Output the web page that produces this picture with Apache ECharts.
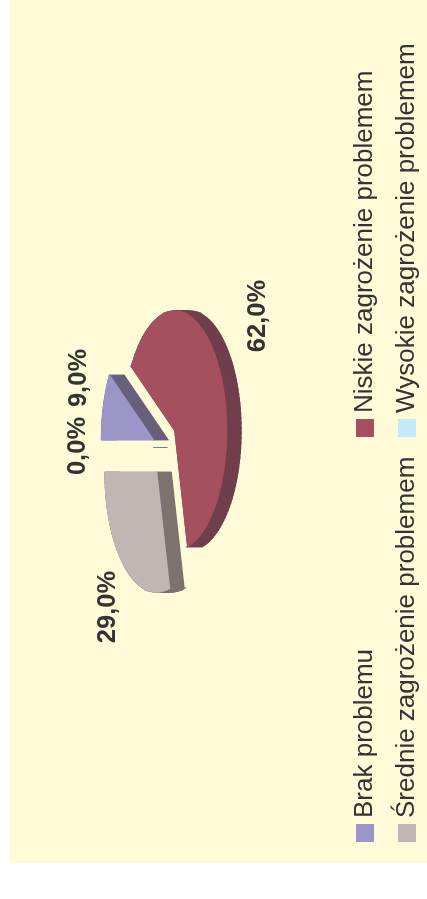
<!DOCTYPE html>
<html><head><meta charset="utf-8">
<style>html,body{margin:0;padding:0;background:#fff}#c{width:427px;height:899px}</style>
<script src="https://cdn.jsdelivr.net/npm/echarts@6/dist/echarts.min.js"></script>
</head><body><div id="c"></div>
<script>
const categories = ['Brak problemu','Niskie zagrożenie problemem','Średnie zagrożenie problemem','Wysokie zagrożenie problemem'];
const values = [9, 62, 29, 0];
const valueLabels = ['9,0%','62,0%','29,0%','0,0%'];
const faceColors = ['#9C96C8','#A4505F','#C0B7B5','#C6E9F8'];
const sideColors = ['#675F7B','#703F4B','#7E7270','#6F7F8F'];
const explode = [0.24,0.24,0.265,0.24];
const labelPos = [[79,378],[258,316],[108,607],[78,446]];
const legendPos = [[365,842],[365,437],[407,842],[407,437]];

const CX=165, CY=447.5, RX=51.5, RY=119.5, DEPTH=14.5;
const total = values.reduce((a,b)=>a+b,0);
const starts = []; values.reduce((a,v,i)=>{starts[i]=a;return a+v;},0);

function pt(cx,cy,t){return [cx-RX*Math.cos(t), cy-RY*Math.sin(t)];}
function renderSlice(params, api){
  const i = api.value(0), v = api.value(1);
  const t0 = starts[i]/total*2*Math.PI, t1=(starts[i]+v)/total*2*Math.PI, mid=(t0+t1)/2;
  const e = explode[i];
  const cx = CX-RX*e*Math.cos(mid), cy = CY-RY*e*Math.sin(mid);
  if(v===0){
    return {type:'line',shape:{x1:cx+0.5,y1:cy,x2:cx+DEPTH+0.5,y2:cy},style:{stroke:sideColors[i],lineWidth:1}};
  }
  const n = Math.max(2,Math.ceil(v*1.5));
  const arc=[]; for(let k=0;k<=n;k++){arc.push(pt(cx,cy,t0+(t1-t0)*k/n));}
  const face=[[cx,cy],...arc];
  const children=[];
  const shift = p=>[p[0]+DEPTH,p[1]];
  face.forEach((p,k)=>{
    const q=face[(k+1)%face.length];
    children.push({type:'polygon',shape:{points:[p,q,shift(q),shift(p)]},style:{fill:sideColors[i],stroke:sideColors[i],lineWidth:1.5}});
  });
  children.push({type:'polygon',shape:{points:face},style:{fill:faceColors[i],stroke:faceColors[i],lineWidth:1.5}});
  return {type:'group',children};
}
function renderLabel(params, api){
  const i=api.value(0), p=labelPos[i];
  return {type:'text',x:p[0],y:p[1],rotation:Math.PI/2,style:{text:valueLabels[i],font:'bold 25.5px "Liberation Sans"',fill:'#333333',align:'center',verticalAlign:'middle'}};
}
function renderLegend(params, api){
  const i=api.value(0), p=legendPos[i];
  return {type:'group',children:[
    {type:'rect',shape:{x:p[0]-9,y:p[1]-18,width:18,height:18},style:{fill:faceColors[i]}},
    {type:'text',x:p[0],y:p[1]-24,rotation:Math.PI/2,style:{text:categories[i],font:'26px "Liberation Sans"',fill:'#333333',align:'left',verticalAlign:'middle'}}
  ]};
}
const rows = values.map((v,i)=>[i,v]);
const chart = echarts.init(document.getElementById('c'),null,{renderer:'canvas'});
chart.setOption({
  animation:false,
  backgroundColor:'#FFFFFF',
  graphic:[{type:'rect',z:-1,shape:{x:10,y:0,width:417,height:863},style:{fill:'#FFFBD8'}}],
  series:[
    {type:'custom',coordinateSystem:'none',data:rows,renderItem:renderSlice,z:2},
    {type:'custom',coordinateSystem:'none',data:rows,renderItem:renderLabel,z:3},
    {type:'custom',coordinateSystem:'none',data:rows,renderItem:renderLegend,z:3}
  ]
});
</script></body></html>
